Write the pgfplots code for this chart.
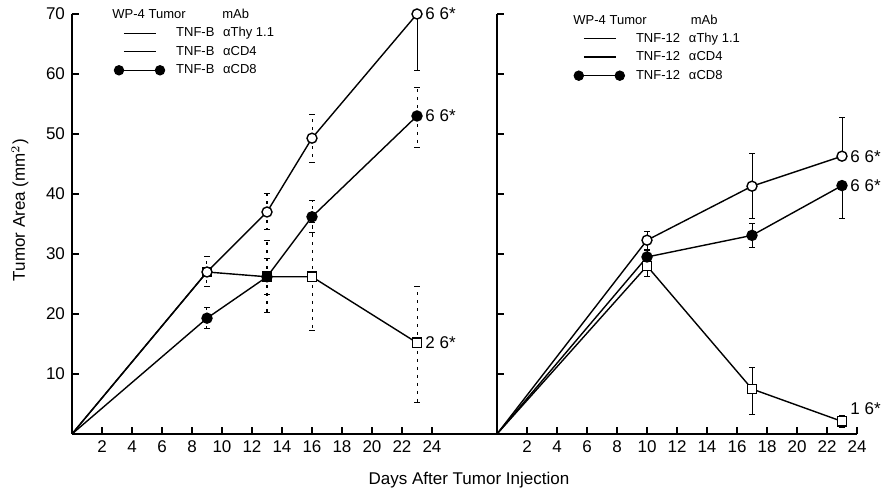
\documentclass[border=0pt]{standalone}
\usepackage{pgfplots}
\pgfplotsset{compat=1.18}
\usepackage{fontspec}
\setmainfont{Liberation Sans}
\tikzset{annot/.style={anchor=west, font=\fontsize{8.5}{10}\selectfont, inner sep=0pt},
  hdr/.style={anchor=west, font=\fontsize{6.5}{7}\selectfont, inner sep=0pt}}
\begin{document}
\begin{tikzpicture}
\path[use as bounding box] (-36pt,-31pt) rectangle (409pt,217pt);
\pgfplotsset{
 panel/.style={
  x=7.5pt, y=3pt,
  xmin=0, ymin=0, ymax=70,
  axis x line*=bottom, axis y line*=left,
  axis line style={line width=0.8pt},
  xtick={2,4,...,24},
  ytick={10,20,...,70},
  tick align=inside,
  major tick length=3.5pt,
  tick style={line width=0.6pt, black},
  tick label style={font=\fontsize{8.5}{10}\selectfont},
  /pgf/number format/assume math mode=true,
  clip=false,
  legend style={draw=none, fill=none, inner sep=0pt,
    font=\fontsize{6.5}{7}\selectfont, row sep=1.75pt, column sep=5pt,
    nodes={inner sep=0.5pt, text height=5pt, text depth=1.5pt}},
  legend cell align=left,
 },
 dl/.style={black, line width=0.7pt, no markers},
 em/.style={black, only marks, line width=0.7pt, mark size=2.5pt,
   error bars/y dir=both, error bars/y explicit,
   error bars/error bar style={line width=0.5pt, solid},
   error bars/error mark options={rotate=90, mark size=1.5pt, line width=0.5pt}},
 oc/.style={em, mark=*, mark options={fill=white, solid}},
 fc/.style={em, mark=*, mark options={fill=black, solid}},
 os/.style={em, mark=square*, mark size=2.3pt, mark options={fill=white, solid}},
 lineimg/.style={legend image code/.code={\draw[black, line width=0.7pt] (2.5pt,0pt) -- (18.5pt,0pt);}},
 dotimg/.style={legend image code/.code={\draw[black, line width=0.7pt] (0pt,0pt) -- (20.5pt,0pt);
   \fill[black] (0pt,0pt) circle (2.4pt); \fill[black] (20.5pt,0pt) circle (2.4pt);}},
}
% ---------------- left panel ----------------
\begin{axis}[panel, xmax=28.333,
  xlabel={Days After Tumor Injection},
  ylabel={Tumor Area (mm$^2$)},
  xlabel style={at={(axis description cs:0.934,-0.11)}, anchor=center, font=\fontsize{8.5}{10}\selectfont},
  ylabel style={at={(axis description cs:-0.1224,0.533)}, anchor=center, font=\fontsize{8.5}{10}\selectfont},
  legend style={at={(axis cs:2.76,68.1)}, anchor=north west},
]
% alpha Thy 1.1
\addplot[dl, forget plot] coordinates {(0,0) (9,27) (13,37) (16,49.3) (23,70)};
% alpha CD8
\addplot[dl, forget plot] coordinates {(0,0) (9,19.3) (13,26.2) (16,36.2) (23,53)};
% alpha CD4
\addplot[dl, forget plot] coordinates {(0,0) (9,27) (13,26.2) (16,26.2) (23,15.2)};
\addplot[os, forget plot, error bars/error bar style={dash pattern=on 1.5pt off 2.5pt}] coordinates {(9,27) +- (0,0) (13,26.2) +- (0,3) (16,26.2) +- (0,9) (23,15.2) += (0,9.3) -= (0,10)};
\addplot[fc, forget plot, error bars/error bar style={dash pattern=on 1.5pt off 2.5pt}] coordinates {(9,19.3) +- (0,1.8) (13,26.2) +- (0,6) (16,36.2) +- (0,2.7) (23,53) += (0,4.8) -= (0,5.2)};
\addplot[oc, forget plot, error bars/error bar style={dash pattern=on 1.5pt off 2.5pt}] coordinates {(9,27) +- (0,2.5) (13,37) +- (0,3) (16,49.3) +- (0,4)};
\addplot[oc, forget plot] coordinates {(23,70) += (0,0) -= (0,9.5)};
\addlegendimage{lineimg}\addlegendentry{\makebox[23.5pt][l]{TNF-B}αThy 1.1}
\addlegendimage{lineimg}\addlegendentry{\makebox[23.5pt][l]{TNF-B}αCD4}
\addlegendimage{dotimg}\addlegendentry{\makebox[23.5pt][l]{TNF-B}αCD8}
\node[hdr] at (axis cs:2.67,70) {WP-4 Tumor};
\node[hdr] at (axis cs:10,70) {mAb};
\node[annot] at ([xshift=4pt]axis cs:23,70) {6 6*};
\node[annot] at ([xshift=4pt]axis cs:23,53) {6 6*};
\node[annot] at ([xshift=4pt]axis cs:23,15.2) {2 6*};
\end{axis}
% ---------------- right panel ----------------
\begin{axis}[panel, xmax=24, at={(212.5pt,0pt)}, anchor=south west,
  yticklabels={},
  legend style={at={(axis cs:5.08,67.2)}, anchor=north west},
]
\addplot[dl, forget plot] coordinates {(0,0) (10,32.3) (17,41.3) (23,46.3)};
\addplot[dl, forget plot] coordinates {(0,0) (10,29.5) (17,33.1) (23,41.4)};
\addplot[dl, forget plot] coordinates {(0,0) (10,28) (17,7.5) (23,2.1)};
\addplot[os, forget plot] coordinates {(10,28) +- (0,1.8) (17,7.5) += (0,3.6) -= (0,4.3) (23,2.1) +- (0,1)};
\addplot[fc, forget plot] coordinates {(10,29.5) +- (0,1) (17,33.1) +- (0,2) (23,41.4) += (0,0) -= (0,5.5)};
\addplot[oc, forget plot] coordinates {(10,32.3) +- (0,1.5) (17,41.3) +- (0,5.4) (23,46.3) += (0,6.4) -= (0,0)};
\addlegendimage{lineimg}\addlegendentry{\makebox[26.5pt][l]{TNF-12}αThy 1.1}
\addlegendimage{lineimg}\addlegendentry{\makebox[26.5pt][l]{TNF-12}αCD4}
\addlegendimage{dotimg}\addlegendentry{\makebox[26.5pt][l]{TNF-12}αCD8}
\node[hdr] at (axis cs:5.07,69) {WP-4 Tumor};
\node[hdr] at (axis cs:12.9,69) {mAb};
\node[annot] at ([xshift=4pt]axis cs:23,46.3) {6 6*};
\node[annot] at ([xshift=4pt]axis cs:23,41.4) {6 6*};
\node[annot] at ([xshift=4pt]axis cs:23,4.3) {1 6*};
\end{axis}
\end{tikzpicture}
\end{document}
